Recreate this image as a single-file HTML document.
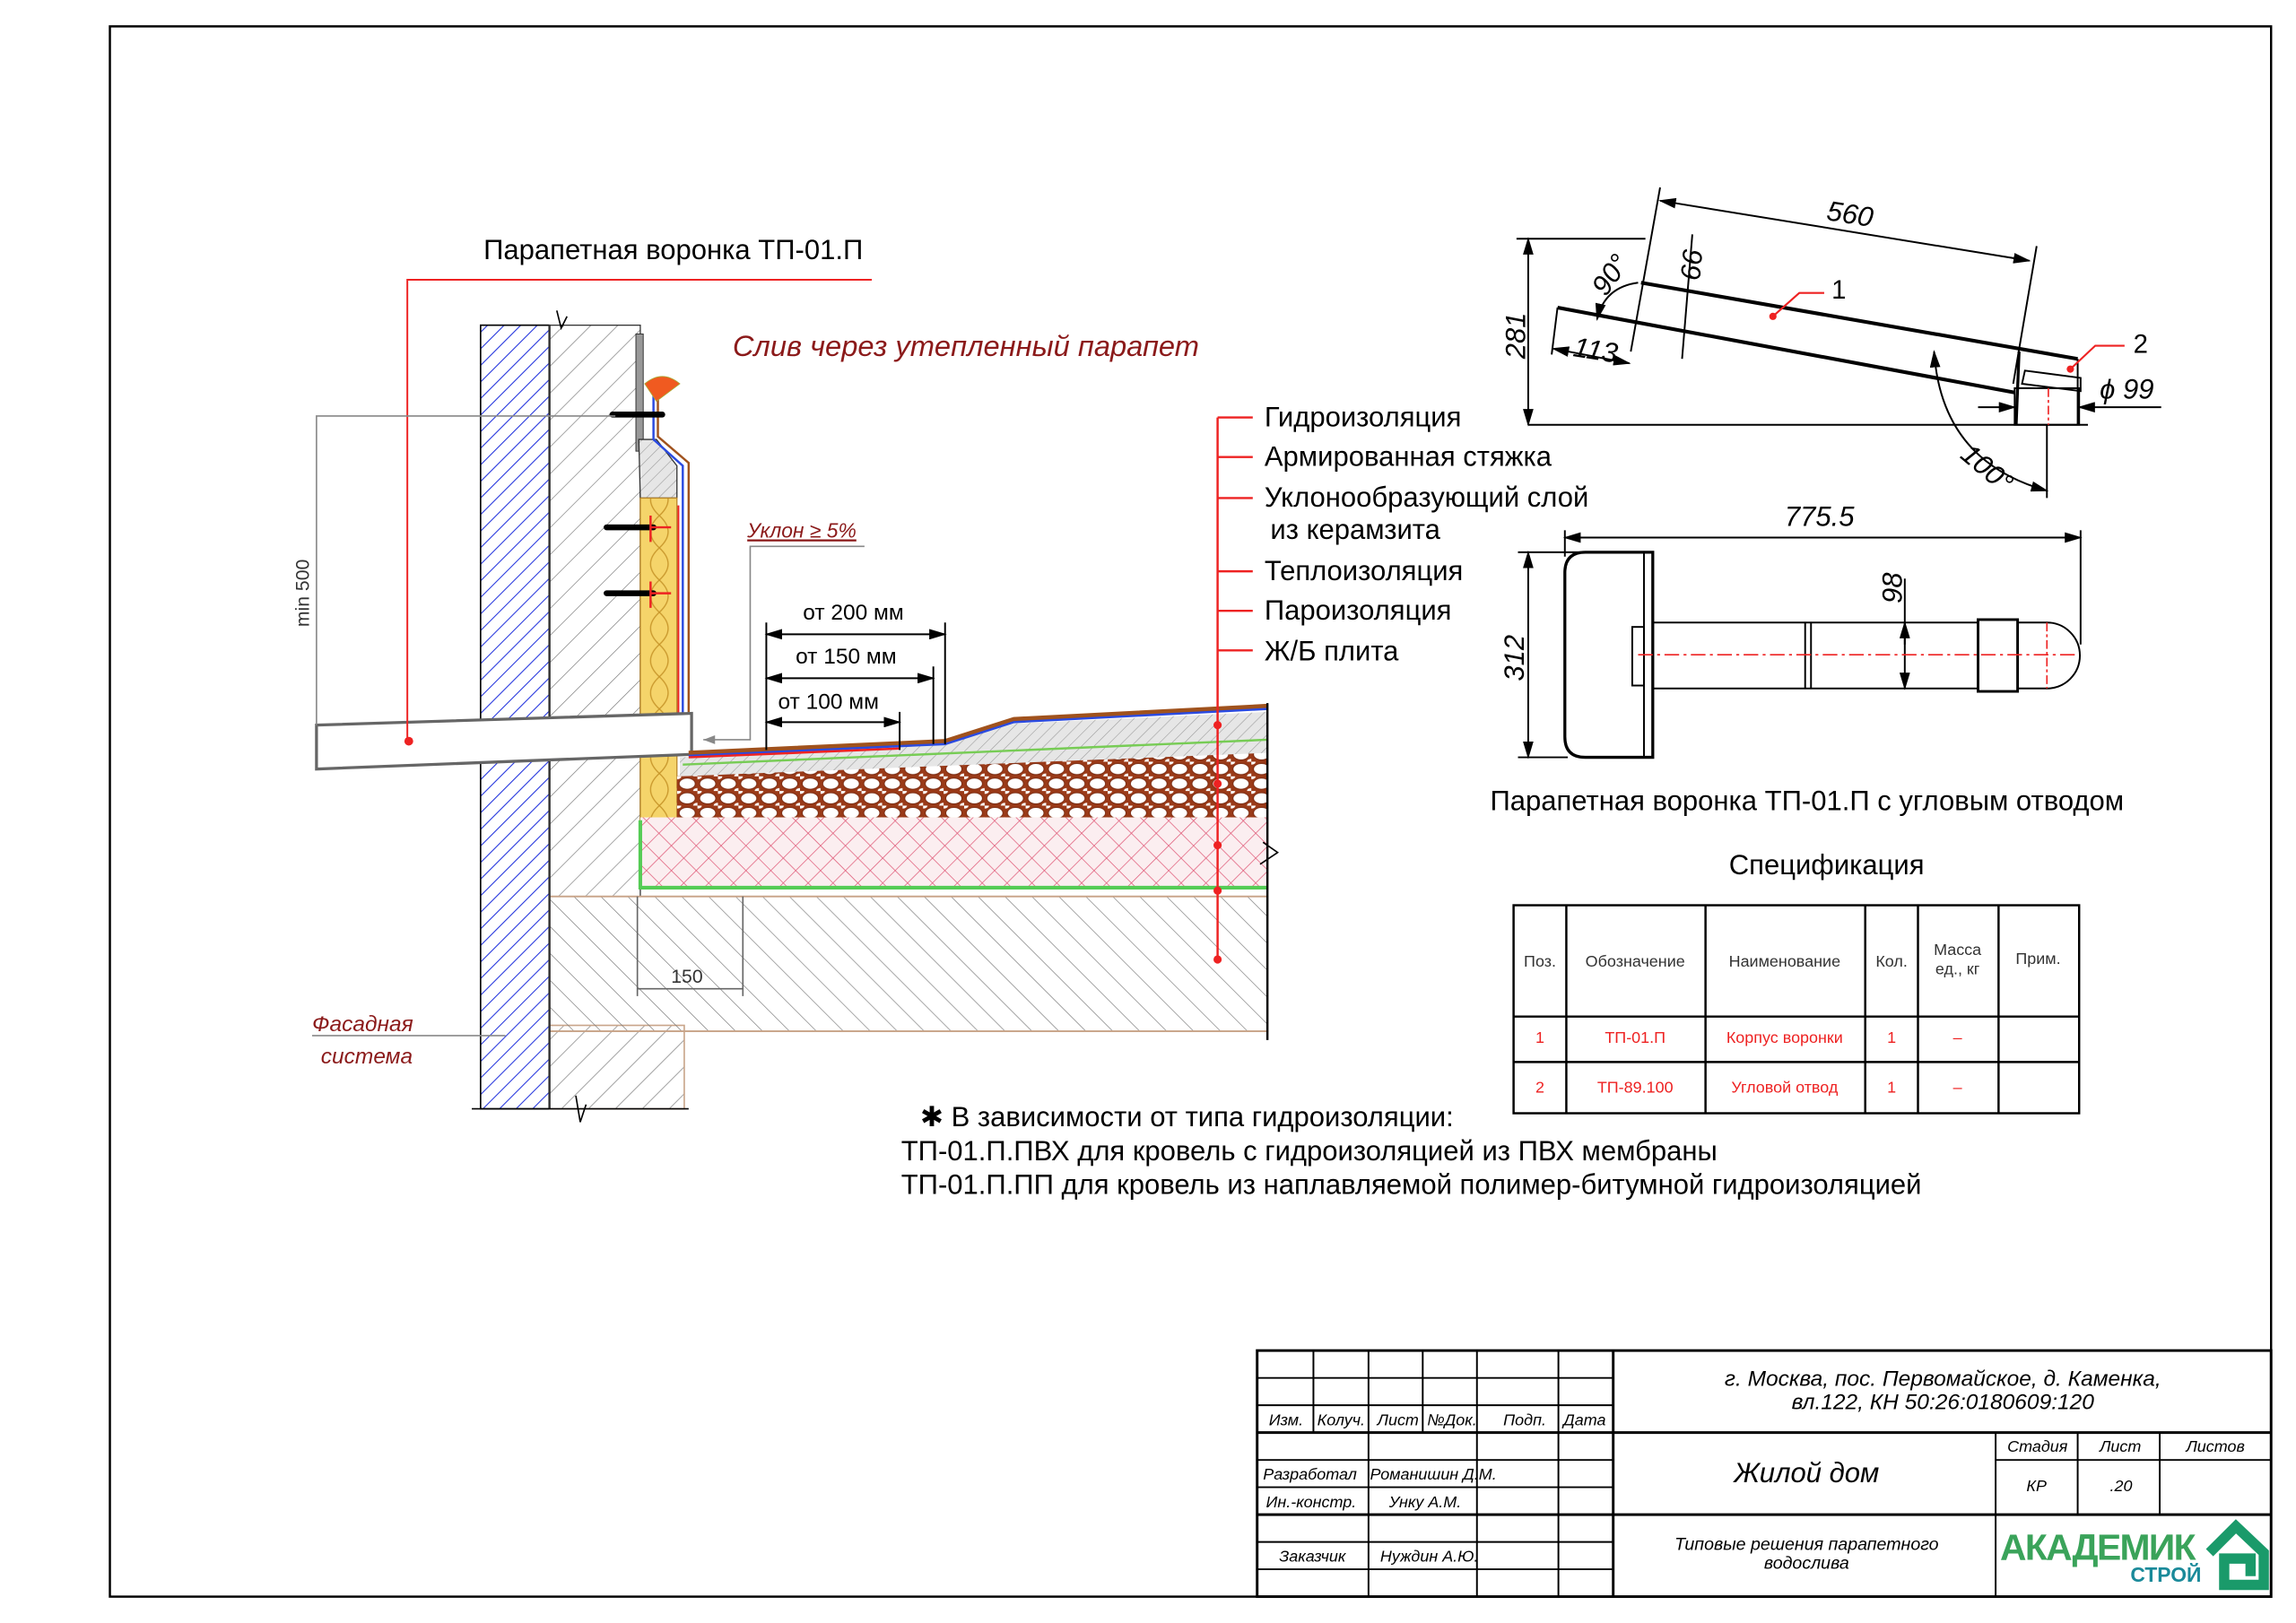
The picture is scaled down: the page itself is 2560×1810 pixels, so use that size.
<!DOCTYPE html>
<html><head><meta charset="utf-8"><style>
html,body{margin:0;padding:0;background:#fff}
svg{display:block}
text{font-family:"Liberation Sans",sans-serif}
.it{font-style:italic}
</style></head><body>
<svg width="2560" height="1810" viewBox="0 0 1567 1108" preserveAspectRatio="none" xmlns="http://www.w3.org/2000/svg">
<defs>
<pattern id="blue" width="8" height="8" patternUnits="userSpaceOnUse" patternTransform="rotate(45)"><line x1="0" y1="0" x2="0" y2="8" stroke="#2233dd" stroke-width="1.3"/></pattern>
<pattern id="conc" width="13" height="13" patternUnits="userSpaceOnUse" patternTransform="rotate(45)"><line x1="0" y1="0" x2="0" y2="13" stroke="#777" stroke-width="0.8"/></pattern>
<pattern id="slab" width="13" height="13" patternUnits="userSpaceOnUse" patternTransform="rotate(-45)"><line x1="0" y1="0" x2="0" y2="13" stroke="#777" stroke-width="0.8"/></pattern>
<pattern id="pink" width="12" height="12" patternUnits="userSpaceOnUse" patternTransform="rotate(45)"><rect width="12" height="12" fill="#fbeef0"/><line x1="0" y1="0" x2="0" y2="12" stroke="#e05a78" stroke-width="0.9"/><line x1="0" y1="0" x2="12" y2="0" stroke="#e05a78" stroke-width="0.9"/></pattern>
<pattern id="ker" width="14" height="10" patternUnits="userSpaceOnUse"><rect width="14" height="10" fill="#9a3a18"/><ellipse cx="7" cy="5" rx="5.5" ry="3.8" fill="#fff" stroke="#7a2a10" stroke-width="0.6"/><ellipse cx="0" cy="0" rx="3" ry="2" fill="#fff"/><ellipse cx="14" cy="10" rx="3" ry="2" fill="#fff"/></pattern>
<pattern id="scr" width="6" height="6" patternUnits="userSpaceOnUse" patternTransform="rotate(45)"><rect width="6" height="6" fill="#e6e6e6"/><line x1="0" y1="0" x2="0" y2="6" stroke="#999" stroke-width="0.7"/></pattern>
<pattern id="yel" width="25" height="22" patternUnits="userSpaceOnUse"><rect width="25" height="22" fill="#f5d46a"/><path d="M0 0 Q12 11 0 22 M25 0 Q13 11 25 22" fill="none" stroke="#c8962a" stroke-width="0.8"/></pattern>
<marker id="ar" markerWidth="10" markerHeight="6" refX="9" refY="3" orient="auto"><path d="M0,0 L10,3 L0,6 z" fill="#000"/></marker>
<marker id="al" markerWidth="10" markerHeight="6" refX="1" refY="3" orient="auto"><path d="M10,0 L0,3 L10,6 z" fill="#000"/></marker>
</defs>

<rect x="75" y="18" width="1475" height="1072" fill="none" stroke="#000" stroke-width="1.5"/>

<!-- LEFT SECTION -->
<text x="330" y="177" font-size="19">Парапетная воронка ТП-01.П</text>
<text x="500" y="243" font-size="20" fill="#8b1a1a" class="it">Слив через утепленный парапет</text>

<rect x="328" y="222" width="47" height="535" fill="url(#blue)" stroke="#000" stroke-width="1"/>
<rect x="375" y="222" width="62" height="390" fill="url(#conc)" stroke="#333" stroke-width="0.8"/>
<rect x="375" y="700" width="92" height="57" fill="url(#conc)" stroke="#c9a58a" stroke-width="1"/>
<rect x="375" y="612" width="490" height="92" fill="url(#slab)" stroke="#c9a58a" stroke-width="1.2"/>
<line x1="375" y1="222" x2="375" y2="757" stroke="#333" stroke-width="1.5"/>
<rect x="434" y="228" width="5" height="80" fill="#999" stroke="#333" stroke-width="0.6"/>
<path d="M436 300 L448 300 L462 318 L462 340 L437 340 Z" fill="url(#scr)" stroke="#333" stroke-width="0.8"/>
<rect x="437" y="340" width="25" height="220" fill="url(#yel)" stroke="#b8862a" stroke-width="0.8"/>
<path d="M446 270 L446 300 L466 318 L466 488" fill="none" stroke="#2a4ae0" stroke-width="1.5"/>
<path d="M449 270 L449 298 L470 316 L470 488" fill="none" stroke="#a0521d" stroke-width="1.5"/>
<line x1="463" y1="345" x2="463" y2="488" stroke="#e22" stroke-width="1.2"/>
<path d="M440 262 Q452 252 464 262 L448 274 Z" fill="#f05a20" stroke="#aa3" stroke-width="0.5"/>
<g stroke="#000" stroke-linecap="round">
<line x1="418" y1="283" x2="452" y2="283" stroke-width="4"/>
<line x1="414" y1="360" x2="446" y2="360" stroke-width="4"/>
<line x1="414" y1="405" x2="446" y2="405" stroke-width="4"/>
</g>
<g stroke="#e22" stroke-width="1.5" fill="none"><path d="M444 352 L444 370 M444 360 L458 360 M444 397 L444 415 M444 405 L458 405"/></g>
<polygon points="216,495 472,487 472,515 216,525" fill="#fff" stroke="#666" stroke-width="2"/>
<polygon points="437,560 462,560 462,530 865,515 865,560" fill="url(#yel)"/>
<rect x="437" y="558" width="428" height="48" fill="url(#pink)"/>
<polygon points="462,530 865,512 865,558 462,558" fill="url(#ker)"/>
<polygon points="464,517 645,508 692,494 865,486 865,514 464,530" fill="url(#scr)"/>
<path d="M466 522 L865 505" stroke="#7c5" stroke-width="1.5" fill="none"/>
<path d="M437 560 L437 606 L865 606" stroke="#5c5" stroke-width="2.5" fill="none"/>
<path d="M470 514 L645 506 L692 491 L865 482" stroke="#a0521d" stroke-width="3" fill="none"/>
<path d="M470 516 L645 508 L692 493 L865 484" stroke="#2a4ae0" stroke-width="1.5" fill="none"/>
<line x1="470" y1="517" x2="614" y2="511" stroke="#e22" stroke-width="1.5"/>
<line x1="865" y1="480" x2="865" y2="710" stroke="#000" stroke-width="1.5"/>
<path d="M862 575 L872 582 L860 590" fill="none" stroke="#000" stroke-width="1"/>
<path d="M380 212 L383 224 L387 216" fill="none" stroke="#000"/>
<line x1="322" y1="757" x2="470" y2="757" stroke="#000" stroke-width="1"/>
<path d="M393 748 L396 766 L400 754" fill="none" stroke="#000"/>
<path d="M595 191 L278 191 L278 506" stroke="#e22" stroke-width="1.2" fill="none"/>
<circle cx="279" cy="506" r="3" fill="#e22"/>
<path d="M420 284 L216 284 L216 495" stroke="#888" stroke-width="1" fill="none"/>
<text transform="translate(211,428) rotate(-90)" font-size="13" fill="#333">min 500</text>
<text x="510" y="367" font-size="14" fill="#8b1a1a" class="it" text-decoration="underline">Уклон ≥ 5%</text>
<path d="M590 373 L512 373 L512 505 L480 505" stroke="#888" stroke-width="1" fill="none"/>
<path d="M480 505 L488 502 L488 508 Z" fill="#888"/>
<g stroke="#000" stroke-width="1.2">
<line x1="523" y1="425" x2="523" y2="512"/>
<line x1="645" y1="425" x2="645" y2="508"/>
<line x1="637" y1="455" x2="637" y2="508"/>
<line x1="614" y1="486" x2="614" y2="512"/>
<line x1="523" y1="433" x2="645" y2="433" marker-start="url(#al)" marker-end="url(#ar)"/>
<line x1="523" y1="463" x2="637" y2="463" marker-start="url(#al)" marker-end="url(#ar)"/>
<line x1="523" y1="493" x2="614" y2="493" marker-start="url(#al)" marker-end="url(#ar)"/>
</g>
<text x="548" y="423" font-size="15">от 200 мм</text>
<text x="543" y="453" font-size="15">от 150 мм</text>
<text x="531" y="484" font-size="15">от 100 мм</text>
<path d="M435 612 L435 680 M507 612 L507 680 M435 675 L507 675" stroke="#666" stroke-width="1" fill="none"/>
<text x="458" y="671" font-size="13" fill="#333">150</text>
<text x="213" y="704" font-size="15" fill="#8b1a1a" class="it">Фасадная</text>
<text x="219" y="726" font-size="15" fill="#8b1a1a" class="it">система</text>
<line x1="213" y1="707" x2="345" y2="707" stroke="#888" stroke-width="1"/>
<line x1="831" y1="285" x2="831" y2="655" stroke="#e22" stroke-width="1.5"/>
<g stroke="#e22" stroke-width="1.5"><line x1="831" y1="285" x2="855" y2="285"/><line x1="831" y1="312" x2="855" y2="312"/><line x1="831" y1="340" x2="855" y2="340"/><line x1="831" y1="390" x2="855" y2="390"/><line x1="831" y1="417" x2="855" y2="417"/><line x1="831" y1="444" x2="855" y2="444"/></g>
<g fill="#e22"><circle cx="831" cy="495" r="2.8"/><circle cx="831" cy="535" r="2.8"/><circle cx="831" cy="577" r="2.8"/><circle cx="831" cy="608" r="2.8"/><circle cx="831" cy="655" r="2.8"/></g>
<g font-size="19"><text x="863" y="291">Гидроизоляция</text><text x="863" y="318">Армированная стяжка</text><text x="863" y="346">Уклонообразующий слой</text><text x="867" y="368">из керамзита</text><text x="863" y="396">Теплоизоляция</text><text x="863" y="423">Пароизоляция</text><text x="863" y="451">Ж/Б плита</text></g>

<g font-size="19"><text x="628" y="769">✱  В зависимости от типа гидроизоляции:</text>
<text x="615" y="792">ТП-01.П.ПВХ для кровель с гидроизоляцией из ПВХ мембраны</text>
<text x="615" y="815">ТП-01.П.ПП для кровель из наплавляемой полимер-битумной гидроизоляцией</text></g>

<!-- RIGHT: side view -->
<g stroke="#000" fill="none" stroke-width="1.2">
<line x1="1043" y1="290" x2="1425" y2="290"/>
<line x1="1035" y1="163" x2="1123" y2="163"/>
<line x1="1043" y1="163" x2="1043" y2="290" marker-start="url(#al)" marker-end="url(#ar)"/>
<line x1="1133" y1="128" x2="1113" y2="240"/>
<line x1="1390" y1="168" x2="1374" y2="262"/>
<line x1="1133" y1="137" x2="1385" y2="178" marker-start="url(#al)" marker-end="url(#ar)"/>
<path d="M1120 193 L1418 245" stroke-width="2.5"/>
<path d="M1063 210 L1375 268" stroke-width="2.5"/>
<path d="M1063 210 L1059 242"/>
<line x1="1060" y1="238" x2="1112" y2="248" marker-start="url(#al)" marker-end="url(#ar)"/>
<path d="M1155 160 L1148 245"/>
<rect x="1375" y="265" width="44" height="25"/>
<line x1="1418" y1="245" x2="1418" y2="290"/>
<line x1="1378" y1="240" x2="1376" y2="290" stroke-width="2"/>
<path d="M1380 262 L1420 267 L1420 258 L1382 253 Z"/>
<line x1="1350" y1="278" x2="1375" y2="278" marker-end="url(#ar)"/>
<line x1="1475" y1="278" x2="1419" y2="278" marker-end="url(#ar)"/>
<path d="M1320 240 Q1325 315 1397 335" marker-start="url(#al)" marker-end="url(#ar)"/>
<line x1="1397" y1="290" x2="1397" y2="340"/>
<path d="M1118 193 Q1095 196 1090 218" marker-end="url(#ar)"/>
</g>
<line x1="1398" y1="265" x2="1398" y2="290" stroke="#e22" stroke-dasharray="6,2,2,2"/>
<path d="M1210 216 L1228 200 L1245 200" stroke="#e22" stroke-width="1.3" fill="none"/><circle cx="1210" cy="216" r="2.5" fill="#e22"/>
<path d="M1413 252 L1430 236 L1450 236" stroke="#e22" stroke-width="1.3" fill="none"/><circle cx="1413" cy="252" r="2.5" fill="#e22"/>
<g font-size="19" class="it" fill="#000">
<text transform="translate(1246,150) rotate(9)">560</text>
<text transform="translate(1041,245) rotate(-90)">281</text>
<text transform="translate(1096,203) rotate(-55)">90°</text>
<text transform="translate(1073,243) rotate(9)">113</text>
<text transform="translate(1160,192) rotate(-85)">66</text>
<text transform="translate(1337,312) rotate(40)">100°</text>
<text x="1433" y="272">ϕ 99</text>
</g>
<text x="1250" y="204" font-size="18">1</text>
<text x="1456" y="241" font-size="18">2</text>

<g stroke="#000" fill="none" stroke-width="1.2">
<line x1="1068" y1="367" x2="1420" y2="367" marker-start="url(#al)" marker-end="url(#ar)"/>
<line x1="1068" y1="362" x2="1068" y2="380"/><line x1="1420" y1="362" x2="1420" y2="440"/>
<line x1="1036" y1="377" x2="1125" y2="377"/><line x1="1036" y1="517" x2="1070" y2="517"/>
<line x1="1043" y1="377" x2="1043" y2="517" marker-start="url(#al)" marker-end="url(#ar)"/>
<path d="M1082 377 L1128 377 L1128 517 L1082 517 Q1068 517 1068 503 L1068 391 Q1068 377 1082 377 Z" stroke-width="2"/>
<line x1="1122" y1="377" x2="1122" y2="517"/>
<rect x="1114" y="428" width="8" height="40"/>
<rect x="1128" y="425" width="222" height="45"/>
<line x1="1232" y1="425" x2="1232" y2="470"/><line x1="1236" y1="425" x2="1236" y2="470"/>
<rect x="1350" y="423" width="27" height="49" stroke-width="1.8"/>
<path d="M1377 425 L1397 425 A22.5 22.5 0 0 1 1397 470 L1377 470"/>
<line x1="1300" y1="395" x2="1300" y2="470" marker-end="url(#ar)"/>
<line x1="1300" y1="440" x2="1300" y2="425" marker-end="url(#ar)"/>
</g>
<line x1="1118" y1="447" x2="1418" y2="447" stroke="#e22" stroke-dasharray="10,3,2,3"/>
<line x1="1397" y1="425" x2="1397" y2="470" stroke="#e22" stroke-dasharray="6,2,2,2"/>
<g font-size="19" class="it"><text x="1218" y="359">775.5</text>
<text transform="translate(1040,465) rotate(-90)">312</text>
<text transform="translate(1298,412) rotate(-90)">98</text></g>
<text x="1017" y="553" font-size="19">Парапетная воронка ТП-01.П с угловым отводом</text>
<text x="1180" y="597" font-size="19">Спецификация</text>

<g stroke="#000" stroke-width="1.5" fill="none">
<rect x="1033" y="618" width="386" height="142"/>
<line x1="1033" y1="694" x2="1419" y2="694"/><line x1="1033" y1="725" x2="1419" y2="725"/>
<line x1="1069" y1="618" x2="1069" y2="760"/><line x1="1164" y1="618" x2="1164" y2="760"/><line x1="1273" y1="618" x2="1273" y2="760"/><line x1="1309" y1="618" x2="1309" y2="760"/><line x1="1364" y1="618" x2="1364" y2="760"/>
</g>
<g font-size="11" text-anchor="middle" fill="#333">
<text x="1051" y="660">Поз.</text><text x="1116" y="660">Обозначение</text><text x="1218" y="660">Наименование</text><text x="1291" y="660">Кол.</text><text x="1336" y="652">Масса</text><text x="1336" y="665">ед., кг</text><text x="1391" y="658">Прим.</text>
</g>
<g font-size="11" text-anchor="middle" fill="#e22">
<text x="1051" y="712">1</text><text x="1116" y="712">ТП-01.П</text><text x="1218" y="712">Корпус воронки</text><text x="1291" y="712">1</text><text x="1336" y="712">–</text>
<text x="1051" y="746">2</text><text x="1116" y="746">ТП-89.100</text><text x="1218" y="746">Угловой отвод</text><text x="1291" y="746">1</text><text x="1336" y="746">–</text>
</g>

<g stroke="#000" stroke-width="1.2" fill="none">
<rect x="858" y="922" width="692" height="168" stroke-width="1.8"/>
<line x1="858" y1="940.7" x2="1101" y2="940.7"/><line x1="858" y1="959.3" x2="1101" y2="959.3"/>
<line x1="858" y1="978" x2="1550" y2="978" stroke-width="1.8"/>
<line x1="858" y1="996.7" x2="1101" y2="996.7"/><line x1="1362" y1="996.7" x2="1550" y2="996.7"/>
<line x1="858" y1="1015.3" x2="1101" y2="1015.3"/>
<line x1="858" y1="1034" x2="1550" y2="1034" stroke-width="1.8"/>
<line x1="858" y1="1052.7" x2="1101" y2="1052.7"/><line x1="858" y1="1071.3" x2="1101" y2="1071.3"/>
<line x1="896.4" y1="922" x2="896.4" y2="978"/><line x1="971" y1="922" x2="971" y2="978"/>
<line x1="934" y1="922" x2="934" y2="1090"/><line x1="1008" y1="922" x2="1008" y2="1090"/><line x1="1063.6" y1="922" x2="1063.6" y2="1090"/>
<line x1="1101" y1="922" x2="1101" y2="1090" stroke-width="1.8"/>
<line x1="1362" y1="978" x2="1362" y2="1090"/><line x1="1418" y1="978" x2="1418" y2="1034"/><line x1="1474" y1="978" x2="1474" y2="1034"/>
</g>
<g font-size="11" class="it" fill="#000">
<text x="866" y="973">Изм.</text><text x="899" y="973">Колуч.</text><text x="940" y="973">Лист</text><text x="974" y="973">№Док.</text><text x="1026" y="973">Подп.</text><text x="1067" y="973">Дата</text>
<text x="862" y="1010">Разработал</text><text x="935" y="1010">Романишин Д.М.</text>
<text x="864" y="1029">Ин.-констр.</text><text x="948" y="1029">Унку А.М.</text>
<text x="873" y="1066">Заказчик</text><text x="942" y="1066">Нуждин А.Ю.</text>
<text x="1370" y="991">Стадия</text><text x="1433" y="991">Лист</text><text x="1492" y="991">Листов</text>
<text x="1383" y="1018">КР</text><text x="1440" y="1018">.20</text>
</g>
<g class="it" text-anchor="middle" fill="#000">
<text x="1326" y="946" font-size="15">г. Москва, пос. Первомайское, д. Каменка,</text>
<text x="1326" y="962" font-size="15">вл.122, КН 50:26:0180609:120</text>
<text x="1233" y="1012" font-size="19">Жилой дом</text>
<text x="1233" y="1058" font-size="12">Типовые решения парапетного</text>
<text x="1233" y="1071" font-size="12">водослива</text>
</g>
<text x="1365" y="1065" font-size="25" font-weight="bold" fill="#3aa35a" letter-spacing="-1">АКАДЕМИК</text>
<text x="1454" y="1080" font-size="14" font-weight="bold" fill="#1a8a9a">СТРОЙ</text>
<path d="M1508 1060 L1526 1042 L1545 1060 L1545 1082 L1518 1082 L1518 1064 L1536 1064 L1536 1076" fill="none" stroke="#1a9a6a" stroke-width="7"/>
</svg>
</body></html>
